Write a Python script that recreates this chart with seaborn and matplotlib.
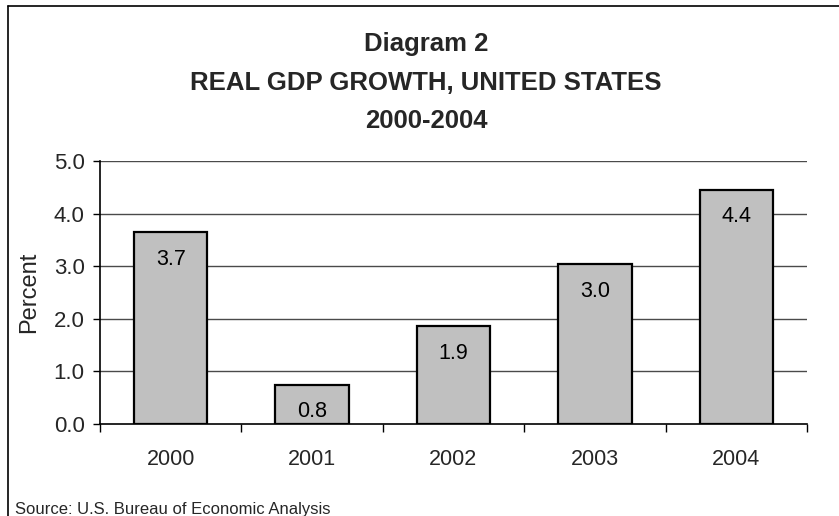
import matplotlib
matplotlib.use("Agg")
import matplotlib.pyplot as plt
import seaborn as sns
import pandas as pd
from matplotlib.lines import Line2D

years = ["2000", "2001", "2002", "2003", "2004"]
growth = [3.65, 0.75, 1.86, 3.04, 4.45]
bar_labels = ["3.7", "0.8", "1.9", "3.0", "4.4"]
yticks = [0.0, 1.0, 2.0, 3.0, 4.0, 5.0]
title_lines = ["Diagram 2", "REAL GDP GROWTH, UNITED STATES", "2000-2004"]
source = "Source: U.S. Bureau of Economic Analysis"

sns.set_style("white")
plt.rcParams['font.family'] = ['Liberation Sans', 'DejaVu Sans']

df = pd.DataFrame({"year": years, "growth": growth})

W, H = 839, 516
fig = plt.figure(figsize=(W/100, H/100), dpi=100)
ax = fig.add_axes([100/W, 92/H, 707/W, 263/H])

ax.set_axisbelow(True)
for v in yticks[1:]:
    ax.axhline(v, color="#4a4a4a", lw=1.0, zorder=0)

sns.barplot(data=df, x="year", y="growth", color="#C0C0C0", edgecolor="black",
            linewidth=1.6, width=0.52, saturation=1, ax=ax, zorder=2)

for i, (v, lab) in enumerate(zip(growth, bar_labels)):
    ax.annotate(lab, (i, v), xytext=(0, -27), textcoords="offset pixels",
                ha="center", va="center", fontsize=15.5, color="black", zorder=3)

ax.set_xlim(-0.5, 4.5)
ax.set_ylim(0, 5)
ax.set_yticks(yticks)
ax.set_yticklabels([f"{t:.1f}" for t in yticks], fontsize=16)
ax.set_xticks(range(len(years)))
ax.set_xticklabels(years, fontsize=15.5)
ax.tick_params(axis="x", length=0, pad=18)
ax.tick_params(axis="y", length=5, width=1, color="black", direction="out", pad=6, left=True)
ax.set_xticks([-0.5, 0.5, 1.5, 2.5, 3.5, 4.5], minor=True)
ax.tick_params(axis="x", which="minor", length=6, width=1, color="black", direction="out", bottom=True)

ax.set_ylabel("Percent", fontsize=17, labelpad=10)
ax.set_xlabel("")
for s in ["top", "right"]:
    ax.spines[s].set_visible(False)
for s in ["left", "bottom"]:
    ax.spines[s].set_color("black")
    ax.spines[s].set_linewidth(1.2)

baselines = [51, 90, 128]
for t, y in zip(title_lines, baselines):
    fig.text(0.508, 1 - y/H, t, ha="center", va="baseline", fontsize=18.5, fontweight="bold")

fig.text(15/W, 1 - 514/H, source, ha="left", va="baseline", fontsize=12)

fig.lines.append(Line2D([8/W, 1.0], [1 - 6/H, 1 - 6/H], transform=fig.transFigure,
                        color="black", lw=1.2))
fig.lines.append(Line2D([8/W, 8/W], [0, 1 - 6/H], transform=fig.transFigure,
                        color="black", lw=1.2))

fig.savefig("out.png", dpi=100)
